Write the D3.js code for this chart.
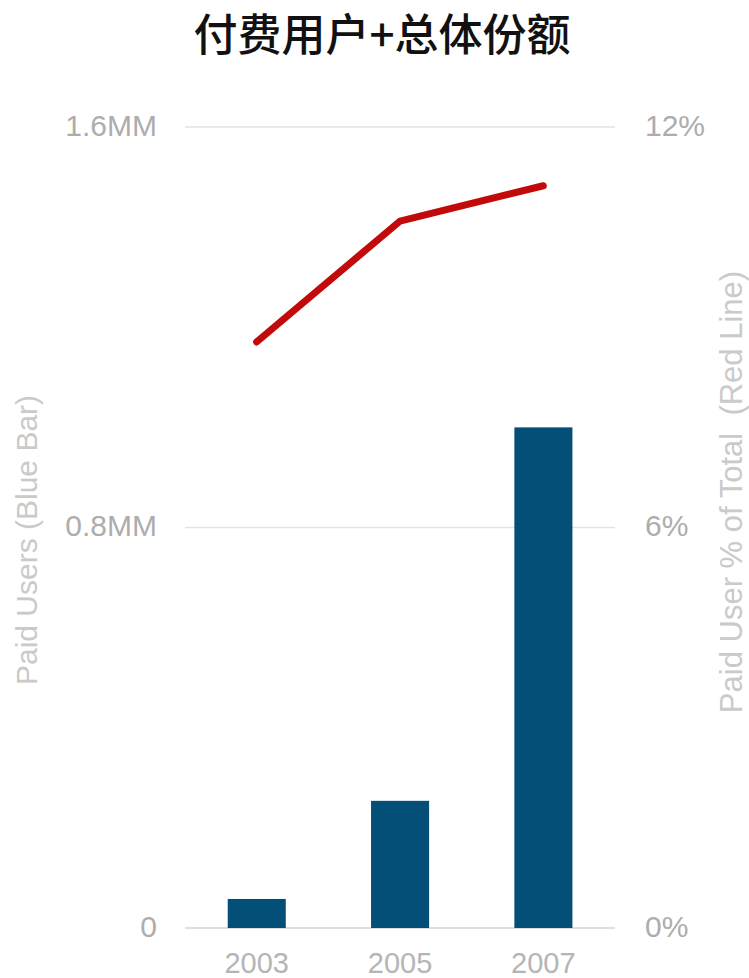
<!DOCTYPE html>
<html>
<head>
<meta charset="utf-8">
<script src="https://cdn.jsdelivr.net/npm/d3@7"></script>
<style>
  html, body { margin: 0; padding: 0; background: #ffffff; }
  svg { display: block; }
</style>
</head>
<body>
<div id="chart"></div>
<script>
// ---- data ----
const title = "付费用户+总体份额";
const years = ["2003", "2005", "2007"];
const paidUsersMM = [0.058, 0.254, 1.0];          // blue bars, millions
const paidSharePct = [8.78, 10.59, 11.12];       // red line, %
const leftTicks = [0, 0.8, 1.6];
const leftTickLabels = ["0", "0.8MM", "1.6MM"];
const rightTicks = [0, 6, 12];
const rightTickLabels = ["0%", "6%", "12%"];
const leftAxisTitle = "Paid Users (Blue Bar)";
const rightAxisTitle = "Paid User % of Total\u00a0\u00a0(Red Line)";

// ---- layout ----
const W = 749, H = 978;
const plot = { left: 185, right: 615, top: 127, bottom: 928 };

const svg = d3.select("#chart").append("svg")
  .attr("width", W).attr("height", H);

const x = d3.scaleBand().domain(years).range([plot.left, plot.right]).padding(0);
const yL = d3.scaleLinear().domain([0, 1.6]).range([plot.bottom, plot.top]);
const yR = d3.scaleLinear().domain([0, 12]).range([plot.bottom, plot.top]);

const tickFont = "'Liberation Sans', Arial, sans-serif";

// gridlines
svg.append("g").selectAll("line")
  .data(leftTicks)
  .join("line")
  .attr("x1", plot.left).attr("x2", plot.right)
  .attr("y1", d => yL(d)).attr("y2", d => yL(d))
  .attr("stroke", d => d === 0 ? "#d4d4d4" : "#dfe4ec")
  .attr("stroke-width", 1.5);

// left axis (labels only)
const leftAxis = d3.axisLeft(yL)
  .tickValues(leftTicks)
  .tickFormat((d, i) => leftTickLabels[i])
  .tickSize(0).tickPadding(0);
const gL = svg.append("g").attr("transform", `translate(157,0)`).call(leftAxis);
gL.select(".domain").remove();
gL.selectAll("text")
  .attr("font-family", tickFont).attr("font-size", 30)
  .attr("fill", "#adadad").attr("dy", "0.28em");

// right axis (labels only)
const rightAxis = d3.axisRight(yR)
  .tickValues(rightTicks)
  .tickFormat((d, i) => rightTickLabels[i])
  .tickSize(0).tickPadding(0);
const gR = svg.append("g").attr("transform", `translate(645,0)`).call(rightAxis);
gR.select(".domain").remove();
gR.selectAll("text")
  .attr("font-family", tickFont).attr("font-size", 30)
  .attr("fill", "#adadad").attr("dy", "0.28em");

// bottom axis (labels only)
const bottomAxis = d3.axisBottom(x).tickSize(0).tickPadding(0);
const gB = svg.append("g").attr("transform", `translate(0,${plot.bottom})`).call(bottomAxis);
gB.select(".domain").remove();
gB.selectAll("text")
  .attr("font-family", tickFont).attr("font-size", 29)
  .attr("fill", "#b5b5b5").attr("dy", null).attr("y", 45);

// bars
const bw = x.bandwidth();
svg.append("g").selectAll("rect")
  .data(years.map((y, i) => ({ y, v: paidUsersMM[i] })))
  .join("rect")
  .attr("x", d => x(d.y) + bw * 0.298)
  .attr("width", bw * 0.405)
  .attr("y", d => yL(d.v))
  .attr("height", d => yL(0) - yL(d.v))
  .attr("fill", "#044f77");

// red line
const line = d3.line()
  .x((d, i) => x(years[i]) + bw / 2)
  .y(d => yR(d));
svg.append("path")
  .datum(paidSharePct)
  .attr("d", line)
  .attr("fill", "none")
  .attr("stroke", "#c20a0a")
  .attr("stroke-width", 7)
  .attr("stroke-linecap", "round")
  .attr("stroke-linejoin", "round");

// axis titles
svg.append("text")
  .attr("transform", "translate(37,540) rotate(-90)")
  .attr("text-anchor", "middle")
  .attr("font-family", tickFont).attr("font-size", 30)
  .attr("fill", "#cacaca")
  .text(leftAxisTitle);

svg.append("text")
  .attr("transform", "translate(742,492) rotate(-90)")
  .attr("text-anchor", "middle")
  .attr("font-family", tickFont).attr("font-size", 31)
  .attr("fill", "#cacaca")
  .text(rightAxisTitle);

// title
svg.append("text")
  .attr("x", 382).attr("y", 51)
  .attr("text-anchor", "middle")
  .attr("font-family", "'Noto Sans CJK SC', sans-serif")
  .attr("font-weight", 500)
  .attr("font-size", 44)
  .attr("fill", "#111111")
  .text(title);
</script>
</body>
</html>
